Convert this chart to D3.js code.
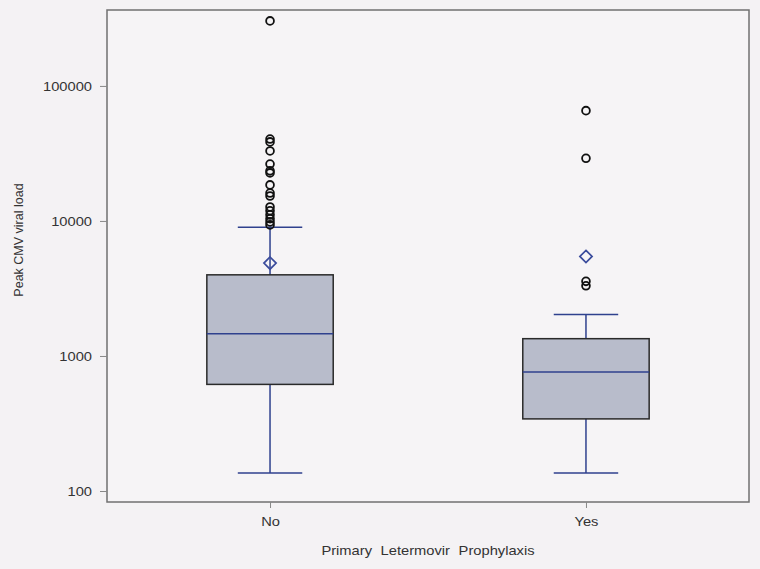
<!DOCTYPE html>
<html>
<head>
<meta charset="utf-8">
<script src="https://cdn.jsdelivr.net/npm/d3@7"></script>
<style>
  body { margin: 0; background: #f4f2f4; }
  svg { display: block; }
  text { font-family: "Liberation Sans", Arial, sans-serif; fill: #333; }
</style>
</head>
<body>
<div id="boxplot"></div>
<script>
// Groups and summary stats
const groups = ["No", "Yes"];
const q1 = [616, 342];
const median = [1462, 762];
const q3 = [3990, 1343];
const whiskerLow = [136, 136];
const whiskerHigh = [8990, 2032];
const means = [4875, 5460];

// Outliers per group
const outliersNo = [303000, 40400, 38500, 33000, 26400, 23500, 22700, 18500,
    16100, 15300, 12700, 11900, 11100, 10400, 9840, 9350];
const outliersYes = [65600, 29100, 3570, 3310];
const outliers = [outliersNo, outliersYes];

const yTicks = [100, 1000, 10000, 100000];

const width = 760, height = 569;
const margin = { top: 10, right: 11, bottom: 67, left: 107 };

// the original figure is a little stretched sideways, so widen horizontal text
const stretch = 1.13;
function widen(sel) {
    sel.each(function() {
        const len = this.getComputedTextLength();
        d3.select(this)
            .attr('textLength', len * stretch)
            .attr('lengthAdjust', 'spacingAndGlyphs');
    });
}

const svg = d3.select('#boxplot')
    .append('svg')
    .attr('width', width)
    .attr('height', height);

const xScale = d3.scalePoint()
    .domain(groups)
    .range([margin.left, width - margin.right])
    .padding(0.516);

const yScale = d3.scaleLog()
    .domain([82.9, 365000])
    .range([height - margin.bottom, margin.top]);

const boxWidth = xScale.step() * 0.4;
const capWidth = boxWidth * 0.51;

// plot frame
svg.append('rect')
    .attr('x', margin.left)
    .attr('y', margin.top)
    .attr('width', width - margin.left - margin.right)
    .attr('height', height - margin.top - margin.bottom)
    .attr('fill', '#f6f4f6')
    .attr('stroke', '#707070')
    .attr('stroke-width', 1.5);

// axes
const yAxis = svg.append('g')
    .attr('transform', `translate(${margin.left},0)`)
    .call(d3.axisLeft(yScale).tickValues(yTicks).tickFormat(d3.format('d')).tickSize(7).tickPadding(8));

const xAxis = svg.append('g')
    .attr('transform', `translate(0,${height - margin.bottom})`)
    .call(d3.axisBottom(xScale).tickSize(6).tickPadding(9));

[yAxis, xAxis].forEach(ax => {
    ax.select('.domain').remove();
    ax.selectAll('line').attr('stroke', '#888');
    ax.selectAll('text').style('font-size', '13px').attr('fill', '#333').call(widen);
});

// axis labels
svg.append('text')
    .attr('x', (margin.left + width - margin.right) / 2)
    .attr('y', 555)
    .style('text-anchor', 'middle')
    .style('font-size', '13px')
    .style('word-spacing', '4px')
    .text('Primary Letermovir Prophylaxis')
    .call(widen);

svg.append('text')
    .attr('x', -240)
    .attr('y', 23)
    .attr('transform', 'rotate(-90)')
    .style('text-anchor', 'middle')
    .style('font-size', '12.5px')
    .text('Peak CMV viral load');

const blue = '#2f418e';

groups.forEach((g, i) => {
    const x = xScale(g);

    // whisker stem
    svg.append('line')
        .attr('x1', x).attr('x2', x)
        .attr('y1', yScale(whiskerLow[i]))
        .attr('y2', yScale(whiskerHigh[i]))
        .attr('stroke', blue)
        .attr('stroke-width', 1.5);

    // caps
    [whiskerLow[i], whiskerHigh[i]].forEach(v => {
        svg.append('line')
            .attr('x1', x - capWidth / 2).attr('x2', x + capWidth / 2)
            .attr('y1', yScale(v)).attr('y2', yScale(v))
            .attr('stroke', blue)
            .attr('stroke-width', 1.5);
    });

    // box
    svg.append('rect')
        .attr('x', x - boxWidth / 2)
        .attr('y', yScale(q3[i]))
        .attr('width', boxWidth)
        .attr('height', yScale(q1[i]) - yScale(q3[i]))
        .attr('fill', '#b8bccb')
        .attr('stroke', '#2a2a2a')
        .attr('stroke-width', 1.5);

    // median
    svg.append('line')
        .attr('x1', x - boxWidth / 2).attr('x2', x + boxWidth / 2)
        .attr('y1', yScale(median[i])).attr('y2', yScale(median[i]))
        .attr('stroke', blue)
        .attr('stroke-width', 1.5);

    // mean diamond
    svg.append('path')
        .attr('d', d3.symbol(d3.symbolDiamond2, 95)())
        .attr('transform', `translate(${x},${yScale(means[i])})`)
        .attr('fill', 'none')
        .attr('stroke', '#3a4b9c')
        .attr('stroke-width', 1.7);

    // outliers
    svg.selectAll(null)
        .data(outliers[i])
        .enter()
        .append('circle')
        .attr('cx', x)
        .attr('cy', d => yScale(d))
        .attr('r', 3.9)
        .attr('fill', 'none')
        .attr('stroke', '#111')
        .attr('stroke-width', 1.8);
});
</script>
</body>
</html>
